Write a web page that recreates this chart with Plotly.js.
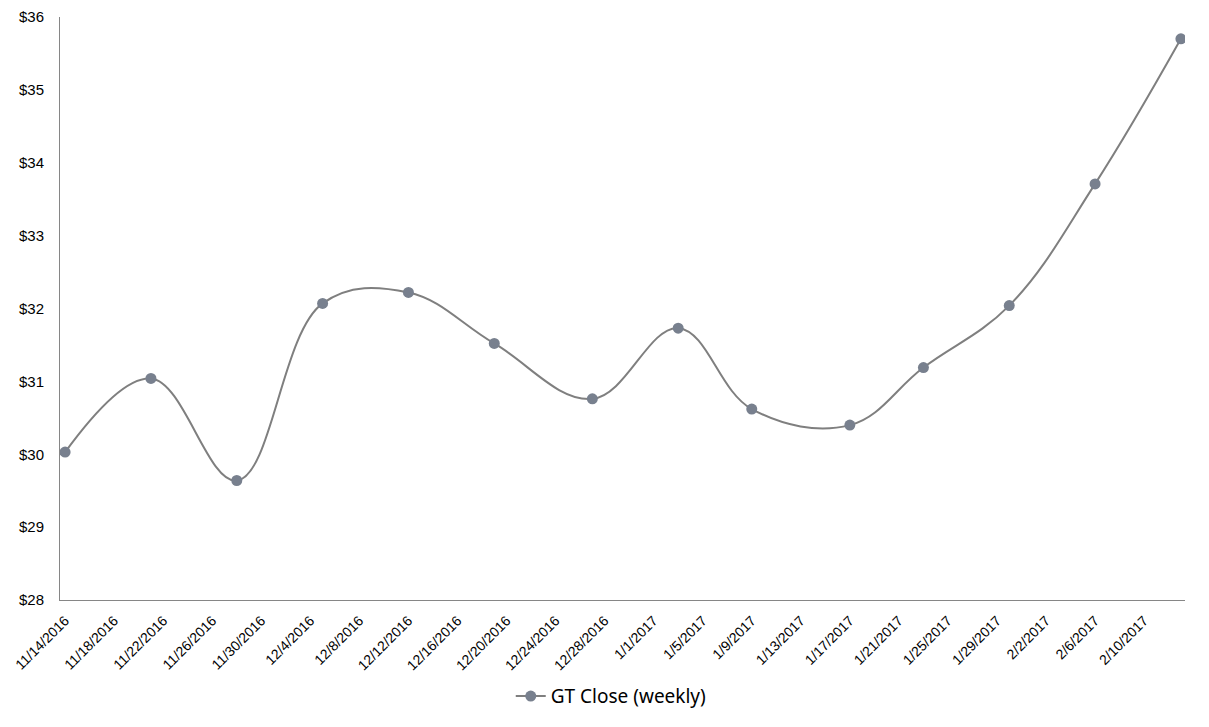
<!DOCTYPE html>
<html>
<head>
<meta charset="utf-8">
<script src="https://cdn.plot.ly/plotly-3.0.1.min.js"></script>
<style>html,body{margin:0;padding:0;background:#fff;}#chart{width:1209px;height:727px;}</style>
</head>
<body>
<div id="chart"></div>
<script>
const dates = ['2016-11-14','2016-11-21','2016-11-28','2016-12-05','2016-12-12','2016-12-19','2016-12-27','2017-01-03','2017-01-09','2017-01-17','2017-01-23','2017-01-30','2017-02-06','2017-02-13'];
const closes = [30.03,31.04,29.64,32.07,32.22,31.52,30.76,31.73,30.62,30.40,31.19,32.04,33.71,35.70];
const seriesName = 'GT Close (weekly)';

const trace = {
  x: dates, y: closes, name: seriesName, type: 'scatter', mode: 'lines+markers',
  line: {shape: 'spline', smoothing: 1.1, color: '#7f7f7f', width: 2},
  marker: {size: 11, color: '#78808e'}
};
const layout = {
  width: 1209, height: 727,
  margin: {l: 60, r: 24, t: 17, b: 124},
  paper_bgcolor: '#fff', plot_bgcolor: '#fff',
  font: {family: 'Liberation Sans, Arial, sans-serif', size: 14, color: '#000'},
  showlegend: true,
  legend: {orientation: 'h', x: 0.49, xanchor: 'center', y: -0.165, yanchor: 'middle', font: {size: 19, family: 'Noto Sans, sans-serif'}},
  xaxis: {
    type: 'date', range: ['2016-11-13 14:00', '2017-02-13 08:00'],
    tick0: '2016-11-14', dtick: 4*86400000, tickformat: '%-m/%-d/%Y', tickangle: -45,
    showgrid: false, zeroline: false, showline: true, linecolor: '#868686', linewidth: 1,
    ticks: '', tickfont: {size: 14}, ticklabelstandoff: 6
  },
  yaxis: {
    range: [28, 36], dtick: 1, tickprefix: '$', showgrid: false, zeroline: false,
    showline: true, linecolor: '#868686', linewidth: 1, ticks: '', tickfont: {size: 15}, ticklabelstandoff: 12
  }
};
Plotly.newPlot('chart', [trace], layout, {displayModeBar: false});
</script>
</body>
</html>
